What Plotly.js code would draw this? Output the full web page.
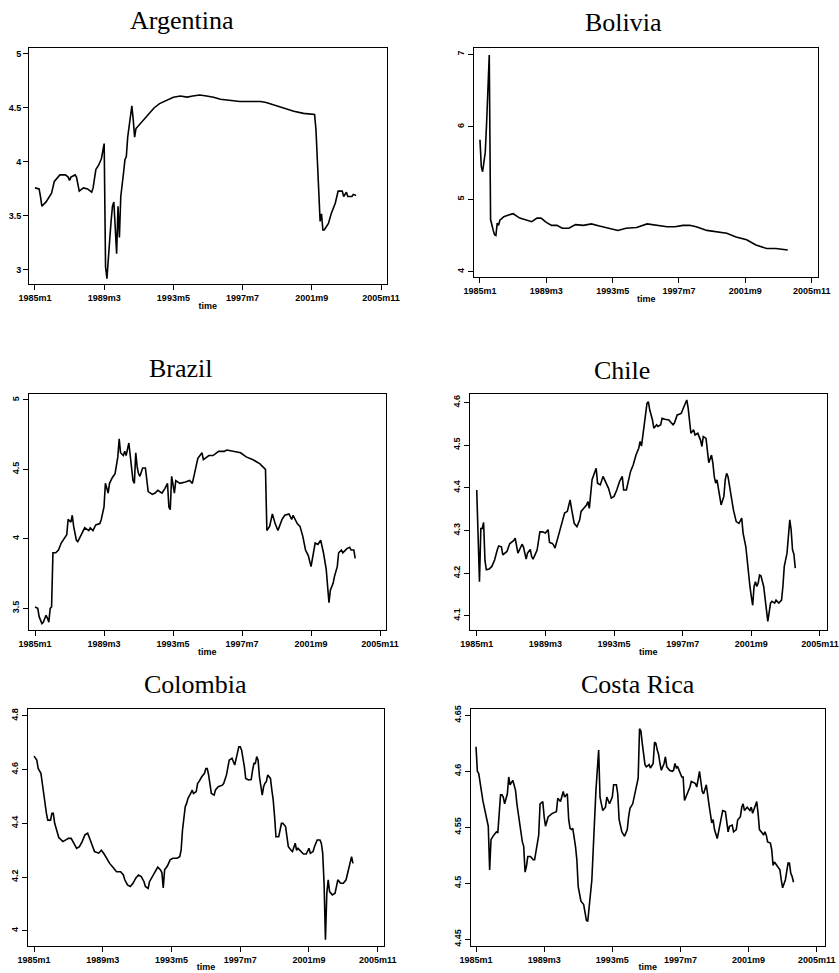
<!DOCTYPE html>
<html><head><meta charset="utf-8">
<script src="https://cdn.plot.ly/plotly-3.0.1.min.js"></script>
<style>html,body{margin:0;padding:0;background:#fff}#chart{width:839px;height:973px}</style>
</head><body><div id="chart"></div>
<script>
// ---- data (month index: 0 = 1985m1) ----
const countries = ['Argentina','Bolivia','Brazil','Chile','Colombia','Costa Rica'];
const xTickVals = [0, 50, 100, 150, 200, 250];
const xTickText = ['1985m1','1989m3','1993m5','1997m7','2001m9','2005m11'];

const argentinaMonth = [0,3,4,5,8,12,14,18,22,24,25,26,29,30,32,35,38,41,42,44,46,48,50,51,52,53,54,55,56,57,58,59,60,61,62,63,64,65,66,67,68,70,71,72,73,75,78,82,86,90,95,100,105,110,114,119,124,129,134,141,148,155,163,167,172,179,187,194,202,203,204,205,206,207,208,209,212,214,217,219,222,223,225,226,229,230,232];
const argentinaValue = [3.76,3.75,3.68,3.59,3.63,3.71,3.82,3.88,3.88,3.86,3.83,3.86,3.88,3.86,3.73,3.76,3.75,3.72,3.76,3.93,3.97,4.03,4.17,3.03,2.92,3.15,3.28,3.45,3.59,3.63,3.34,3.15,3.59,3.30,3.68,3.77,3.90,4.02,4.05,4.23,4.34,4.52,4.39,4.23,4.31,4.34,4.39,4.44,4.50,4.54,4.57,4.60,4.61,4.60,4.61,4.62,4.61,4.60,4.58,4.57,4.56,4.56,4.56,4.55,4.53,4.50,4.47,4.45,4.44,4.30,3.96,3.65,3.45,3.52,3.37,3.37,3.43,3.52,3.62,3.73,3.73,3.68,3.72,3.68,3.68,3.70,3.69];

const boliviaMonth = [0,1,2,3,4,5,6,7,8,9,10,11,12,13,14,15,18,21,25,30,35,39,43,46,50,54,58,62,67,72,78,84,90,98,104,110,118,126,133,141,147,153,158,163,171,178,186,193,201,208,216,223,228,232];
const boliviaValue = [5.82,5.45,5.38,5.50,5.65,6.05,6.50,6.99,4.72,4.62,4.57,4.51,4.50,4.67,4.64,4.71,4.76,4.78,4.80,4.74,4.71,4.69,4.74,4.74,4.68,4.64,4.64,4.60,4.60,4.65,4.64,4.66,4.63,4.60,4.57,4.60,4.61,4.66,4.64,4.62,4.62,4.64,4.64,4.62,4.57,4.55,4.53,4.48,4.44,4.37,4.32,4.32,4.31,4.30];

const brazilMonth = [0,2,3,5,6,8,9,10,11,12,13,15,17,19,21,23,24,26,27,28,30,31,34,36,39,40,42,44,47,48,50,51,53,54,56,58,60,61,62,64,65,66,68,69,71,72,73,74,75,76,78,80,82,85,87,89,92,94,96,97,98,99,101,102,105,109,112,114,116,118,121,122,126,129,133,137,139,143,149,153,158,163,167,168,170,172,174,176,179,181,184,186,187,190,192,194,196,198,200,203,205,207,209,211,212,213,214,216,217,219,220,222,223,226,228,229,231,232];
const brazilValue = [3.51,3.50,3.44,3.39,3.40,3.45,3.43,3.40,3.50,3.51,3.90,3.90,3.92,3.97,4.00,4.03,4.14,4.12,4.17,4.09,3.99,3.98,4.04,4.08,4.06,4.08,4.06,4.10,4.11,4.14,4.23,4.40,4.33,4.40,4.44,4.47,4.59,4.72,4.62,4.60,4.63,4.60,4.69,4.59,4.42,4.40,4.62,4.52,4.47,4.45,4.51,4.51,4.34,4.32,4.33,4.35,4.33,4.36,4.40,4.23,4.21,4.45,4.33,4.42,4.40,4.41,4.42,4.40,4.50,4.58,4.62,4.57,4.60,4.60,4.63,4.63,4.64,4.63,4.62,4.59,4.57,4.54,4.50,4.06,4.09,4.18,4.11,4.06,4.14,4.17,4.18,4.14,4.17,4.11,4.09,4.02,3.92,3.88,3.80,3.97,3.96,3.99,3.90,3.78,3.65,3.54,3.63,3.68,3.73,3.80,3.90,3.92,3.90,3.93,3.94,3.92,3.92,3.86];

const chileMonth = [0,1,2,3,4,5,6,7,9,11,13,15,16,18,19,22,24,27,28,30,32,33,34,36,37,39,40,41,43,44,46,48,50,52,53,55,56,57,60,62,64,66,67,68,69,71,73,75,76,78,80,81,82,84,86,87,88,90,92,93,96,98,100,102,104,106,107,109,110,112,114,116,118,119,120,121,122,124,125,126,128,129,131,132,134,135,137,140,141,143,144,146,148,149,150,152,153,154,155,156,158,159,161,163,164,165,167,168,169,171,172,173,174,175,177,178,180,181,182,183,185,187,189,191,193,194,196,197,198,199,200,201,202,203,204,205,206,207,209,210,211,212,214,215,217,218,220,222,223,224,226,227,228,229,230,231,232];
const chileValue = [4.395,4.30,4.18,4.305,4.305,4.319,4.230,4.208,4.210,4.216,4.231,4.255,4.264,4.262,4.243,4.251,4.269,4.277,4.282,4.247,4.262,4.268,4.262,4.233,4.247,4.256,4.239,4.233,4.247,4.255,4.297,4.297,4.294,4.302,4.272,4.270,4.266,4.259,4.294,4.317,4.341,4.345,4.360,4.372,4.352,4.317,4.309,4.325,4.345,4.352,4.360,4.368,4.352,4.419,4.434,4.446,4.411,4.407,4.427,4.419,4.399,4.376,4.380,4.395,4.415,4.427,4.395,4.395,4.411,4.438,4.454,4.477,4.493,4.509,4.498,4.524,4.555,4.598,4.602,4.583,4.559,4.540,4.548,4.544,4.548,4.563,4.561,4.559,4.555,4.548,4.552,4.571,4.573,4.575,4.583,4.598,4.606,4.587,4.559,4.528,4.536,4.524,4.528,4.512,4.497,4.520,4.516,4.485,4.459,4.477,4.458,4.427,4.411,4.419,4.372,4.360,4.380,4.419,4.434,4.427,4.387,4.348,4.321,4.317,4.329,4.294,4.262,4.231,4.184,4.169,4.145,4.125,4.169,4.180,4.169,4.177,4.196,4.194,4.169,4.137,4.122,4.087,4.130,4.134,4.130,4.137,4.130,4.137,4.169,4.216,4.247,4.282,4.325,4.302,4.255,4.245,4.212];

const colombiaMonth = [0,2,3,5,6,7,8,9,10,12,13,14,15,17,18,21,23,25,27,29,31,33,35,37,39,40,42,44,47,49,51,53,55,58,60,63,65,66,68,70,72,74,76,78,80,81,83,84,87,89,90,92,93,94,95,97,98,99,101,104,106,107,108,110,111,112,114,115,116,118,119,120,122,124,125,126,127,128,129,131,132,134,137,138,140,142,144,146,147,149,150,151,153,154,156,158,159,160,161,162,163,164,166,167,168,169,170,172,173,174,175,176,178,179,180,181,183,184,185,187,188,190,191,192,194,195,196,198,200,201,203,204,206,208,209,210,211,212,213,214,215,217,219,221,223,225,227,229,230,231,232];
const colombiaValue = [4.650,4.635,4.604,4.586,4.549,4.511,4.462,4.437,4.412,4.412,4.437,4.437,4.400,4.369,4.347,4.332,4.338,4.344,4.344,4.328,4.307,4.313,4.332,4.357,4.363,4.350,4.319,4.295,4.289,4.300,4.286,4.270,4.251,4.233,4.220,4.220,4.208,4.190,4.171,4.165,4.177,4.196,4.208,4.202,4.183,4.165,4.158,4.183,4.208,4.229,4.237,4.227,4.217,4.160,4.227,4.241,4.251,4.264,4.270,4.270,4.276,4.300,4.375,4.462,4.474,4.493,4.511,4.524,4.511,4.518,4.549,4.555,4.573,4.586,4.604,4.604,4.580,4.536,4.511,4.505,4.524,4.536,4.542,4.549,4.580,4.635,4.642,4.617,4.642,4.685,4.685,4.672,4.611,4.567,4.561,4.563,4.598,4.623,4.623,4.648,4.635,4.573,4.505,4.536,4.549,4.555,4.580,4.567,4.524,4.487,4.425,4.350,4.350,4.375,4.400,4.400,4.388,4.350,4.313,4.300,4.295,4.326,4.300,4.307,4.295,4.289,4.286,4.286,4.307,4.289,4.295,4.313,4.338,4.338,4.326,4.289,4.177,3.967,4.140,4.190,4.146,4.134,4.140,4.190,4.177,4.177,4.190,4.233,4.251,4.276,4.251];

const costaRicaMonth = [0,1,2,3,4,5,7,8,9,10,11,13,15,16,18,19,20,21,23,24,25,27,29,30,31,32,34,35,36,37,38,40,42,43,45,46,47,49,50,51,53,56,59,60,62,64,65,67,68,69,70,71,73,74,75,76,77,79,80,81,82,84,85,86,87,88,90,91,92,93,95,96,97,98,100,101,103,104,105,107,109,111,112,113,115,117,118,119,120,121,122,123,124,125,127,128,130,131,132,133,134,135,136,138,139,140,142,144,145,146,147,148,150,151,152,153,155,157,158,161,162,164,166,167,169,170,171,173,174,175,177,178,179,180,181,183,184,185,186,188,189,191,192,194,195,196,197,199,201,202,203,205,206,207,208,210,211,212,213,214,216,217,218,219,221,223,224,225,227,228,229,230,231,232,233];
const costaRicaValue = [4.622,4.600,4.598,4.589,4.580,4.574,4.5625,4.557,4.551,4.512,4.539,4.543,4.546,4.545,4.579,4.579,4.577,4.571,4.580,4.595,4.588,4.592,4.583,4.571,4.5625,4.551,4.537,4.533,4.510,4.515,4.524,4.524,4.521,4.521,4.537,4.543,4.571,4.573,4.5595,4.551,4.5595,4.5625,4.564,4.576,4.573,4.582,4.577,4.580,4.557,4.549,4.548,4.549,4.533,4.521,4.497,4.488,4.484,4.481,4.473,4.467,4.466,4.494,4.503,4.530,4.557,4.583,4.619,4.577,4.571,4.565,4.568,4.577,4.574,4.571,4.577,4.588,4.588,4.580,4.557,4.546,4.542,4.548,4.5595,4.567,4.571,4.583,4.589,4.594,4.638,4.636,4.625,4.616,4.606,4.604,4.606,4.603,4.607,4.626,4.625,4.619,4.615,4.607,4.601,4.607,4.613,4.604,4.601,4.600,4.601,4.607,4.603,4.604,4.598,4.595,4.595,4.574,4.580,4.586,4.591,4.589,4.586,4.600,4.582,4.580,4.588,4.577,4.570,4.554,4.557,4.548,4.540,4.546,4.552,4.558,4.565,4.564,4.5565,4.546,4.551,4.552,4.546,4.548,4.5565,4.5595,4.568,4.571,4.565,4.568,4.565,4.568,4.5625,4.570,4.573,4.5625,4.548,4.545,4.543,4.546,4.543,4.537,4.536,4.530,4.516,4.519,4.516,4.512,4.503,4.496,4.503,4.510,4.518,4.518,4.509,4.506,4.501];

const argentinaYTicks = [3, 3.5, 4, 4.5, 5];
const boliviaYTicks = [4, 5, 6, 7];
const brazilYTicks = [3.5, 4, 4.5, 5];
const chileYTicks = [4.1, 4.2, 4.3, 4.4, 4.5, 4.6];
const colombiaYTicks = [4, 4.2, 4.4, 4.6, 4.8];
const costaRicaYTicks = [4.45, 4.5, 4.55, 4.6, 4.65];

const seriesMonths = [argentinaMonth, boliviaMonth, brazilMonth, chileMonth, colombiaMonth, costaRicaMonth];
const seriesValues = [argentinaValue, boliviaValue, brazilValue, chileValue, colombiaValue, costaRicaValue];
const yTicks = [argentinaYTicks, boliviaYTicks, brazilYTicks, chileYTicks, colombiaYTicks, costaRicaYTicks];

// ---- layout (pixel boxes) ----
const W = 839, H = 973;
const boxes = [
  {l:29,   r:386.7, t:47.7,  b:284,   xr:[-4.3,254.1], yr:[2.870,5.058], ang:0,   tx:181.5, ty:21},
  {l:474,  r:818.3, t:47.7,  b:277.3, xr:[-4.5,255.0], yr:[3.923,7.091], ang:-90, tx:623.8, ty:23},
  {l:29,   r:385.7, t:394,   b:630,   xr:[-4.35,254.1], yr:[3.344,5.043], ang:-90, tx:180.7, ty:369},
  {l:470,  r:826.7, t:394,   b:630,   xr:[-4.9,254.9], yr:[4.067,4.620], ang:-90, tx:622.3, ty:370},
  {l:28,   r:384,   t:709.3, b:945.7, xr:[-4.4,254.6], yr:[3.945,4.824], ang:-90, tx:195.8, ty:684},
  {l:470.7,r:825,   t:709.3, b:945.7, xr:[-3.9,256.1], yr:[4.4443,4.6554], ang:-90, tx:637.7, ty:684}
];

const sans = 'Liberation Sans, Arial, Helvetica, sans-serif';
const serif = 'Liberation Serif, Times New Roman, serif';
const traces = [];
const layout = {width:W, height:H, margin:{l:0,r:0,t:0,b:0}, paper_bgcolor:'#fff', plot_bgcolor:'#fff', showlegend:false, annotations:[]};

countries.forEach((name, i) => {
  const n = i === 0 ? '' : String(i + 1);
  const p = boxes[i];
  traces.push({x:seriesMonths[i], y:seriesValues[i], type:'scatter', mode:'lines',
    line:{color:'#000', width:1.6}, xaxis:'x'+n, yaxis:'y'+n, hoverinfo:'skip', name:name});
  const common = {showline:true, mirror:true, linecolor:'#000', linewidth:1, showgrid:false, zeroline:false,
    ticks:'outside', ticklen:5, tickwidth:1, tickcolor:'#000', fixedrange:true,
    tickfont:{family:sans, size:9, color:'#000', weight:'bold'}};
  layout['xaxis'+n] = Object.assign({}, common, {domain:[p.l/W, p.r/W], range:p.xr, anchor:'y'+n,
    tickmode:'array', tickvals:xTickVals, ticktext:xTickText, tickangle:0,
    title:{text:'time', font:{family:sans, size:9, color:'#000', weight:'bold'}, standoff:0}});
  layout['yaxis'+n] = Object.assign({}, common, {domain:[1-p.b/H, 1-p.t/H], range:p.yr, anchor:'x'+n,
    tickmode:'array', tickvals:yTicks[i], tickangle:p.ang});
  layout.annotations.push({text:name, xref:'paper', yref:'paper', x:p.tx/W, y:1-p.ty/H,
    xanchor:'center', yanchor:'middle', showarrow:false, font:{family:serif, size:26, color:'#000'}});
});

Plotly.newPlot('chart', traces, layout, {staticPlot:true, displayModeBar:false});
</script></body></html>
